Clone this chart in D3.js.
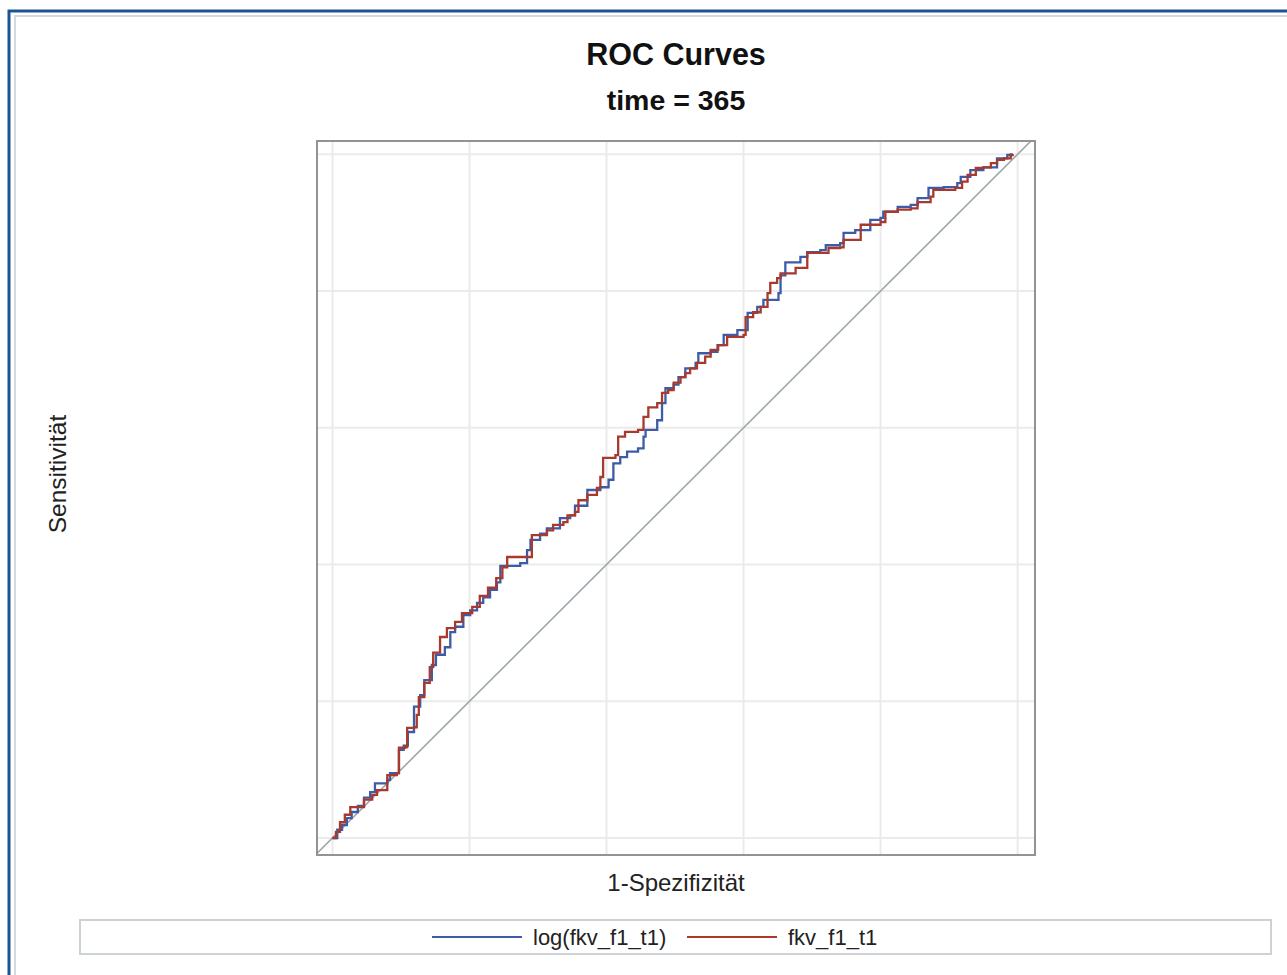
<!DOCTYPE html>
<html>
<head>
<meta charset="utf-8">
<script src="https://cdn.jsdelivr.net/npm/d3@7"></script>
<style>
  body { margin: 0; background: #fff; }
  svg { display: block; font-family: 'Liberation Sans', Arial, sans-serif; }
</style>
</head>
<body>
<svg width="1287" height="975"></svg>
<script>
const TITLE = 'ROC Curves';
const SUBTITLE = 'time = 365';
const X_LABEL = '1-Spezifizität';
const Y_LABEL = 'Sensitivität';
const SERIES_NAMES = ['log(fkv_f1_t1)', 'fkv_f1_t1'];
const SERIES_COLORS = ['#3d5ba6', '#a8392d'];
const GRID_TICKS = [0, 0.2, 0.4, 0.6, 0.8, 1];

// log(fkv_f1_t1)
const FPR_LOG = [0, 0.007, 0.014, 0.021, 0.028, 0.037, 0.046, 0.055, 0.062, 0.080, 0.084, 0.097, 0.104, 0.110,
  0.119, 0.128, 0.134, 0.145, 0.151, 0.164, 0.172, 0.179, 0.191, 0.201, 0.211, 0.220, 0.230, 0.240, 0.245,
  0.274, 0.284, 0.289, 0.303, 0.313, 0.332, 0.347, 0.354, 0.372, 0.391, 0.403, 0.410, 0.420, 0.430, 0.446,
  0.454, 0.457, 0.474, 0.481, 0.486, 0.498, 0.505, 0.515, 0.530, 0.534, 0.552, 0.562, 0.571, 0.591, 0.603,
  0.606, 0.620, 0.629, 0.651, 0.654, 0.661, 0.683, 0.693, 0.712, 0.720, 0.741, 0.746, 0.763, 0.785, 0.800,
  0.804, 0.825, 0.844, 0.854, 0.870, 0.892, 0.912, 0.917, 0.931, 0.950, 0.970, 0.985, 0.990, 0.993];
const TPR_LOG = [0, 0.012, 0.019, 0.029, 0.038, 0.047, 0.059, 0.067, 0.080, 0.085, 0.095, 0.129, 0.135, 0.155,
  0.192, 0.209, 0.231, 0.253, 0.268, 0.279, 0.301, 0.309, 0.326, 0.333, 0.344, 0.352, 0.363, 0.374, 0.398,
  0.402, 0.421, 0.436, 0.445, 0.453, 0.468, 0.472, 0.486, 0.509, 0.513, 0.524, 0.548, 0.557, 0.565, 0.570,
  0.587, 0.597, 0.611, 0.636, 0.658, 0.663, 0.674, 0.687, 0.695, 0.709, 0.711, 0.721, 0.736, 0.743, 0.743,
  0.768, 0.777, 0.787, 0.797, 0.823, 0.842, 0.850, 0.857, 0.860, 0.867, 0.870, 0.885, 0.889, 0.904, 0.907,
  0.916, 0.923, 0.926, 0.936, 0.951, 0.952, 0.958, 0.967, 0.977, 0.981, 0.994, 0.999, 1.0, 1.0];

// fkv_f1_t1
const FPR_RAW = [0, 0.005, 0.011, 0.018, 0.026, 0.043, 0.046, 0.058, 0.065, 0.080, 0.094, 0.097, 0.106, 0.109,
  0.119, 0.123, 0.126, 0.134, 0.134, 0.142, 0.147, 0.157, 0.167, 0.179, 0.189, 0.204, 0.215, 0.227, 0.239,
  0.248, 0.255, 0.286, 0.291, 0.313, 0.322, 0.337, 0.343, 0.354, 0.359, 0.372, 0.386, 0.391, 0.395, 0.413,
  0.417, 0.427, 0.446, 0.454, 0.461, 0.474, 0.481, 0.490, 0.498, 0.508, 0.515, 0.522, 0.532, 0.544, 0.552,
  0.563, 0.576, 0.600, 0.603, 0.614, 0.625, 0.635, 0.639, 0.649, 0.654, 0.676, 0.693, 0.717, 0.724, 0.741,
  0.746, 0.771, 0.800, 0.807, 0.825, 0.844, 0.854, 0.873, 0.877, 0.909, 0.919, 0.927, 0.939, 0.950, 0.961,
  0.970, 0.980, 0.990, 0.993];
const TPR_RAW = [0, 0.009, 0.023, 0.034, 0.045, 0.045, 0.056, 0.063, 0.070, 0.092, 0.095, 0.132, 0.133, 0.161,
  0.162, 0.180, 0.206, 0.206, 0.227, 0.250, 0.271, 0.294, 0.307, 0.316, 0.329, 0.338, 0.354, 0.366, 0.380,
  0.396, 0.411, 0.411, 0.443, 0.450, 0.458, 0.462, 0.472, 0.477, 0.494, 0.502, 0.512, 0.528, 0.556, 0.560,
  0.587, 0.594, 0.597, 0.616, 0.630, 0.636, 0.651, 0.655, 0.666, 0.674, 0.680, 0.687, 0.695, 0.704, 0.714,
  0.721, 0.733, 0.736, 0.762, 0.769, 0.777, 0.797, 0.812, 0.819, 0.826, 0.834, 0.856, 0.856, 0.863, 0.864,
  0.875, 0.897, 0.901, 0.916, 0.919, 0.921, 0.930, 0.938, 0.948, 0.951, 0.960, 0.970, 0.980, 0.981, 0.987,
  0.992, 0.994, 0.999, 1.0];

const svg = d3.select('svg');
const W = +svg.attr('width');

// outer frame of the output page (only top/left visible)
svg.append('path')
    .attr('d', `M9,975V11H${W}`)
    .attr('fill', 'none')
    .attr('stroke', '#1d5592')
    .attr('stroke-width', 3);
svg.append('path')
    .attr('d', `M15,975V16H${W}`)
    .attr('fill', 'none')
    .attr('stroke', '#d5d9de')
    .attr('stroke-width', 2);

// plot area
const frame = { left: 317, top: 141, right: 1035, bottom: 855 };
const x = d3.scaleLinear().domain([-0.0226, 1.0254]).range([frame.left, frame.right]);
const y = d3.scaleLinear().domain([-0.0249, 1.0195]).range([frame.bottom, frame.top]);
const pw = frame.right - frame.left;
const ph = frame.bottom - frame.top;

svg.append('defs').append('clipPath').attr('id', 'clip')
  .append('rect')
    .attr('x', frame.left).attr('y', frame.top)
    .attr('width', pw).attr('height', ph);

// grid
const grid = svg.append('g').attr('stroke', '#ebebeb').attr('stroke-width', 2);
grid.selectAll('line.v')
  .data(GRID_TICKS)
  .enter().append('line')
    .attr('class', 'v')
    .attr('x1', d => x(d)).attr('x2', d => x(d))
    .attr('y1', frame.top).attr('y2', frame.bottom);
grid.selectAll('line.h')
  .data(GRID_TICKS)
  .enter().append('line')
    .attr('class', 'h')
    .attr('y1', d => y(d)).attr('y2', d => y(d))
    .attr('x1', frame.left).attr('x2', frame.right);

// reference diagonal
svg.append('line')
    .attr('clip-path', 'url(#clip)')
    .attr('x1', x(-0.1)).attr('y1', y(-0.1))
    .attr('x2', x(1.1)).attr('y2', y(1.1))
    .attr('stroke', '#9ea7ab')
    .attr('stroke-width', 1.6);

// ROC step curves
const series = [
  d3.zip(FPR_LOG, TPR_LOG),
  d3.zip(FPR_RAW, TPR_RAW)
];
const line = d3.line()
    .x(d => x(d[0]))
    .y(d => y(d[1]))
    .curve(d3.curveStepAfter);

svg.append('g')
    .attr('clip-path', 'url(#clip)')
  .selectAll('path')
  .data(series)
  .enter().append('path')
    .attr('d', line)
    .attr('fill', 'none')
    .attr('stroke', (d, i) => SERIES_COLORS[i])
    .attr('stroke-width', 2.3);

svg.append('rect')
    .attr('x', frame.left).attr('y', frame.top)
    .attr('width', pw).attr('height', ph)
    .attr('fill', 'none')
    .attr('stroke', '#8f9496')
    .attr('stroke-width', 2);

// titles
const cx = (frame.left + frame.right) / 2;
svg.append('text')
    .attr('x', cx).attr('y', 65)
    .attr('text-anchor', 'middle')
    .attr('font-weight', 'bold')
    .attr('font-size', 30.5)
    .attr('fill', '#111')
    .text(TITLE);
svg.append('text')
    .attr('x', cx).attr('y', 110)
    .attr('text-anchor', 'middle')
    .attr('font-weight', 'bold')
    .attr('font-size', 28.5)
    .attr('fill', '#111')
    .text(SUBTITLE);

// axis labels
svg.append('text')
    .attr('x', cx).attr('y', 891)
    .attr('text-anchor', 'middle')
    .attr('font-size', 24)
    .attr('fill', '#222')
    .text(X_LABEL);
svg.append('text')
    .attr('transform', 'translate(66,474)rotate(-90)')
    .attr('text-anchor', 'middle')
    .attr('font-size', 24.5)
    .attr('fill', '#222')
    .text(Y_LABEL);

// legend
svg.append('rect')
    .attr('x', 80).attr('y', 920)
    .attr('width', 1191).attr('height', 34)
    .attr('fill', '#fff')
    .attr('stroke', '#cdd2d6')
    .attr('stroke-width', 2);

const legendX = [432, 687];
const legend = svg.append('g')
  .selectAll('g')
  .data(SERIES_NAMES)
  .enter().append('g')
    .attr('transform', (d, i) => `translate(${legendX[i]},937)`);
legend.append('line')
    .attr('x1', 0).attr('x2', 90)
    .attr('stroke', (d, i) => SERIES_COLORS[i])
    .attr('stroke-width', 2);
legend.append('text')
    .attr('x', 101)
    .attr('dy', '0.35em')
    .attr('font-size', 22)
    .attr('fill', '#222')
    .text(d => d);
</script>
</body>
</html>
